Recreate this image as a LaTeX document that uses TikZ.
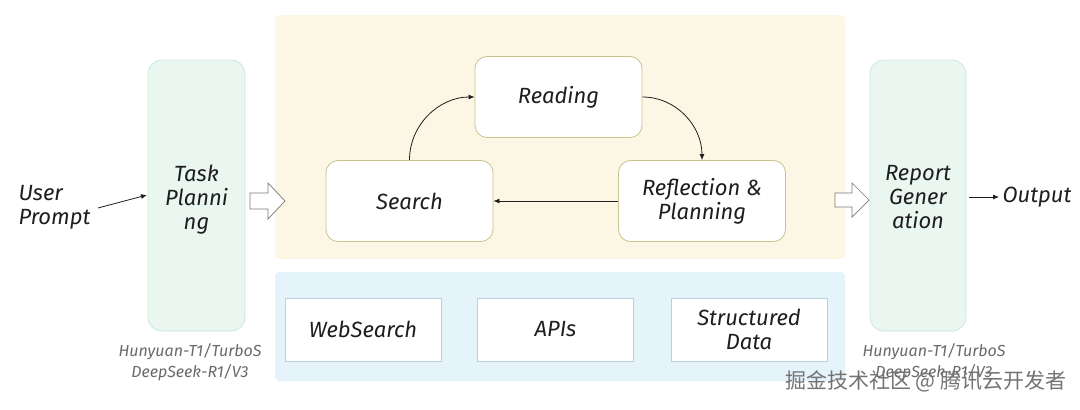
\documentclass[tikz,border=0pt]{standalone}
\usepackage{fontspec}
\setmainfont{Fira Sans}
\newfontfamily\cjk{Noto Sans CJK SC}
\usetikzlibrary{arrows.meta}
\definecolor{greenfill}{HTML}{E9F7F0}
\definecolor{greenline}{HTML}{CDE8D8}
\definecolor{yellowbg}{HTML}{FCF7E4}
\definecolor{bluebg}{HTML}{E5F3FB}
\definecolor{olive}{HTML}{C8C38C}
\definecolor{blueline}{HTML}{B9D0DE}
\definecolor{ink}{HTML}{1E1E1E}
\definecolor{labelgray}{HTML}{6A6A6A}
\tikzset{
  txt/.style={font=\fontsize{22}{24}\selectfont\itshape\addfontfeature{Weight=300}, text=ink, align=center},
  model/.style={rounded corners=14pt, draw=greenline, fill=greenfill, line width=0.8pt},
  loopbox/.style={rounded corners=12pt, draw=olive, fill=white, line width=0.8pt, minimum width=167pt, minimum height=81pt, txt},
  toolbox/.style={draw=blueline, fill=white, line width=0.8pt, minimum width=156pt, minimum height=63pt, txt},
  conn/.style={-{Latex[length=6pt,width=5pt]}, line width=0.8pt, ink},
  hollow/.style={draw=ink!60, fill=white, line width=0.7pt, line join=miter},
  lbl/.style={font=\fontsize{16}{21}\selectfont\itshape\addfontfeature{Weight=300}, text=labelgray, align=center}
}
\begin{document}
\begin{tikzpicture}[x=1pt,y=-1pt]
\useasboundingbox (0,0) rectangle (1080,410);
\fill[white] (0,0) rectangle (1080,410);
% backgrounds
\fill[yellowbg, rounded corners=4pt] (275,15) rectangle (845,259);
\fill[bluebg, rounded corners=4pt] (275,272) rectangle (845,381);
% model columns
\draw[model] (148,60) rectangle (245,331);
\node[txt] (task) at (196.5,200) {Task\\Planni\\ng};
\draw[model] (870,60) rectangle (966,331);
\node[txt] (report) at (918,197) {Report\\Gener\\ation};
\node[lbl] (lblL) at (190,362) {Hunyuan-T1/TurboS\\DeepSeek-R1/V3};
\node[lbl] (lblR) at (934,362) {Hunyuan-T1/TurboS\\DeepSeek-R1/V3};
% inputs / outputs
\node[txt, align=left, anchor=west] (user) at (15,207) {User\\Prompt};
\coordinate (userout) at (98,208);
\coordinate (taskin) at (147,195);
\draw[conn] (userout) -- (taskin);
\coordinate (repout) at (969,197);
\node[txt, anchor=west] (out) at (999,197) {Output};
\draw[conn] (repout) -- (out.west);
% hollow arrows
\draw[hollow] (250,193) -- (268,193) -- (268,183) -- (285,201) -- (268,219) -- (268,209) -- (250,209) -- cycle;
\draw[hollow] (835,193) -- (852,193) -- (852,183) -- (869,200) -- (852,217) -- (852,207) -- (835,207) -- cycle;
% loop
\node[loopbox] (reading) at (558.5,97) {Reading};
\node[loopbox] (search) at (409.5,201) {Search};
\node[loopbox] (reflect) at (702,201) {Reflection \&\\Planning};
\draw[conn] (search.north) to[out=90, in=180] (reading.west);
\draw[conn] (reading.east) to[out=0, in=90] (reflect.north);
\draw[conn] (reflect.west) -- (search.east);
% tools
\node[toolbox] (web) at (363,329.5) {WebSearch};
\node[toolbox] (apis) at (555.5,329.5) {APIs};
\node[toolbox] (data) at (749,329.5) {Structured\\Data};
% watermark
\node[font=\cjk\fontsize{21}{24}\selectfont, text=black!55, anchor=east] (wm) at (1070,381) {掘金技术社区 @ 腾讯云开发者};
\end{tikzpicture}
\end{document}
